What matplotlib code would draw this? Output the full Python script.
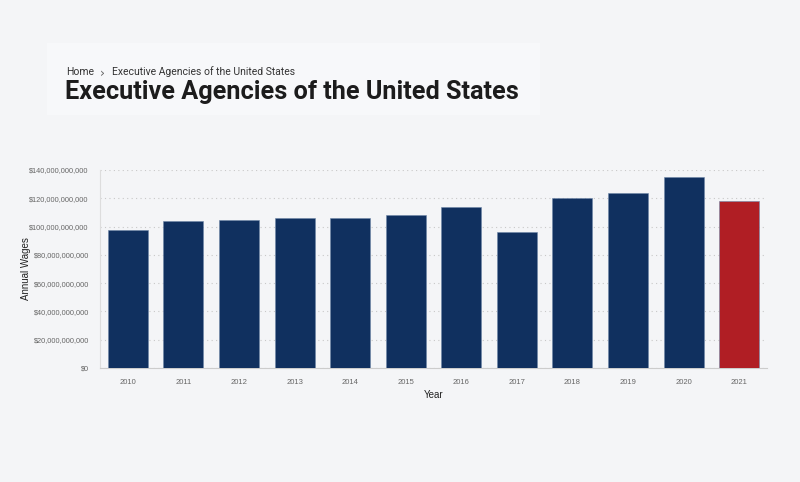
import matplotlib.pyplot as plt
from matplotlib.patches import Rectangle
from matplotlib.ticker import FuncFormatter

# Data
years = ["2010", "2011", "2012", "2013", "2014", "2015",
         "2016", "2017", "2018", "2019", "2020", "2021"]
wages = [97.9e9, 103.8e9, 104.5e9, 105.9e9, 106.1e9, 108.2e9,
         113.5e9, 96.3e9, 120.2e9, 124.0e9, 134.7e9, 118.1e9]
highlight_year = "2021"

yticks = [0, 20e9, 40e9, 60e9, 80e9, 100e9, 120e9, 140e9]

navy = "#10305f"
red = "#b01e24"
bg = "#f4f5f7"

fig = plt.figure(figsize=(8, 4.82), dpi=100)
fig.patch.set_facecolor(bg)

# lighter header card behind the title
fig.patches.append(Rectangle((47 / 800, 1 - 115 / 482), 493 / 800, 72 / 482,
                             transform=fig.transFigure, facecolor="#f7f8fa",
                             edgecolor="none", zorder=0))
fig.text(66 / 800, 1 - 72 / 482, "Home", fontsize=7.5, family="Roboto",
         color="#333333", va="center")
fig.text(100 / 800, 1 - 73 / 482, "\u203a", fontsize=9, family="DejaVu Sans",
         color="#666666", va="center")
fig.text(112 / 800, 1 - 72 / 482, "Executive Agencies of the United States",
         fontsize=7.5, family="Roboto", color="#333333", va="center")
fig.text(65 / 800, 1 - 92 / 482, "Executive Agencies of the United States",
         fontsize=18.2, family="Roboto", weight="bold", color="#1c1c1c",
         va="center")

ax = fig.add_axes([100 / 800, 1 - 368 / 482, 667 / 800, 198 / 482])
ax.set_facecolor(bg)

colors = [red if y == highlight_year else navy for y in years]
ax.bar(range(len(years)), wages, width=0.72, color=colors,
       edgecolor="#6f86a8", linewidth=0.4, zorder=3)

ax.set_xlim(-0.5, len(years) - 0.5)
ax.set_ylim(0, 140e9)
ax.set_xticks(range(len(years)))
ax.set_xticklabels(years)
ax.set_yticks(yticks)
ax.yaxis.set_major_formatter(FuncFormatter(lambda v, p: f"${v:,.0f}"))

ax.grid(axis="y", linestyle=(0, (1, 3)), color="#c8c8c8", linewidth=0.8, zorder=0)
for s in ["top", "right"]:
    ax.spines[s].set_visible(False)
ax.spines["left"].set_color("#dddddd")
ax.spines["bottom"].set_color("#cccccc")
ax.tick_params(axis="y", length=0, labelsize=5.3, labelcolor="#666666", pad=8)
ax.tick_params(axis="x", length=0, labelsize=5.5, labelcolor="#666666", pad=8)
for lbl in ax.get_xticklabels() + ax.get_yticklabels():
    lbl.set_family("Liberation Sans")

ax.set_xlabel("Year", fontsize=7, family="Liberation Sans", color="#222222", labelpad=3)
ax.set_ylabel("Annual Wages", fontsize=7, family="Liberation Sans", color="#222222")
ax.yaxis.set_label_coords(-0.104, 0.5)

fig.savefig("out.png", dpi=100, facecolor=bg)
